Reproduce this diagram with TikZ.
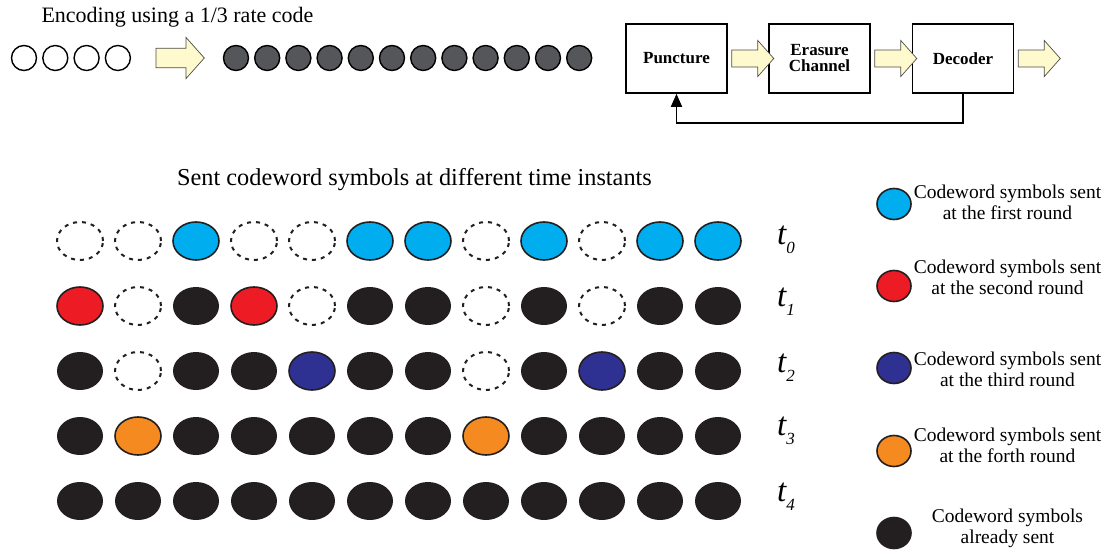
\documentclass[tikz,border=0pt]{standalone}
\usepackage{fontspec}
\setmainfont{Liberation Serif}
\usetikzlibrary{shapes.geometric,arrows.meta,calc}

\definecolor{symblue}{HTML}{00AEEF}
\definecolor{symred}{HTML}{ED1C24}
\definecolor{symnavy}{HTML}{2E3192}
\definecolor{symorange}{HTML}{F58A20}
\definecolor{symblack}{HTML}{231F20}
\definecolor{codegray}{HTML}{555659}
\definecolor{arrowfill}{HTML}{FFFACD}

\tikzset{
  sym/.style={ellipse, minimum width=46pt, minimum height=38pt, inner sep=0pt},
  erased/.style={sym, draw=symblack, line width=2pt, dash pattern=on 4pt off 5pt},
  sentnow/.style={sym, draw=symblack, line width=1.6pt, fill=#1},
  sentold/.style={sym, fill=symblack},
  legsym/.style={ellipse, minimum width=34pt, minimum height=31pt, inner sep=0pt,
                 draw=symblack, line width=1.6pt, fill=#1},
  legtext/.style={align=center, font=\rmfamily\fontsize{19.5}{21}\selectfont},
  infobit/.style={circle, minimum size=25pt, inner sep=0pt, draw=black, line width=1.4pt},
  codebit/.style={infobit, fill=codegray},
  block/.style={draw=black, line width=1.6pt, minimum width=101pt, minimum height=69pt,
                align=center, font=\rmfamily\fontsize{17}{16}\bfseries},
  barrow/.style={draw=black!70, line width=0.7pt, fill=arrowfill},
  blockarrow/.pic={\path[barrow] (0,-8.5) -- (26,-8.5) -- (26,-18) -- (42,0)
                        -- (26,18) -- (26,8.5) -- (0,8.5) -- cycle;},
  tlabel/.style={font=\rmfamily\fontsize{33}{33}\itshape\selectfont}
}

\newcommand{\tsub}[1]{t\raisebox{-0.28em}{\fontsize{17}{17}\selectfont #1}}

\begin{document}
\begin{tikzpicture}[x=1pt, y=-1pt]
\useasboundingbox (0,0) rectangle (1112,554);

% ---- encoding stage ----
\node[font=\rmfamily\fontsize{22}{22}\selectfont, anchor=west] (enc) at (38,17) {Encoding using a 1/3 rate code};
\foreach \i in {0,...,3}
  \node[infobit] (in\i) at (24+31.3*\i,58) {};
\pic[scale=1.15] at (156,58) {blockarrow};
\foreach \i in {0,...,11}
  \node[codebit] (cw\i) at (236+31.2*\i,58) {};

% ---- transmission loop ----
\node[block] (punct) at (676.5,58.5) {Puncture};
\node[block] (erase) at (819.5,58.5) {Erasure\\Channel};
\node[block] (dec)   at (963,58.5)   {Decoder};
\pic at ($(punct.east)+(4,0)$) {blockarrow};
\pic at ($(erase.east)+(4,0)$) {blockarrow};
\pic at ($(dec.east)+(4,0)$) {blockarrow};
\coordinate (fbr) at ($(dec.south)+(0,29)$);
\coordinate (fbl) at ($(punct.south)+(0,29)$);
\draw[line width=1.6pt, -{Triangle[length=13pt,width=11pt]}]
  (dec.south) -- (fbr) -- (fbl) -- (punct.south);

% ---- symbols over time ----
\node[font=\rmfamily\fontsize{24.3}{24}\selectfont] (title) at (414.5,180) {Sent codeword symbols at different time instants};

% row t0
\foreach \k/\s in {0/e,1/e,2/b,3/e,4/e,5/b,6/b,7/e,8/b,9/e,10/b,11/b}{
  \if\s e\relax \node[erased] (r0c\k) at (80+58*\k,241) {};
  \else \node[sentnow=symblue] (r0c\k) at (80+58*\k,241) {}; \fi}
% row t1
\foreach \k/\s in {0/r,1/e,2/k,3/r,4/e,5/k,6/k,7/e,8/k,9/e,10/k,11/k}{
  \if\s e\relax \node[erased] (r1c\k) at (80+58*\k,306) {};
  \else\if\s r\relax \node[sentnow=symred] (r1c\k) at (80+58*\k,306) {};
  \else \node[sentold] (r1c\k) at (80+58*\k,306) {}; \fi\fi}
% row t2
\foreach \k/\s in {0/k,1/e,2/k,3/k,4/n,5/k,6/k,7/e,8/k,9/n,10/k,11/k}{
  \if\s e\relax \node[erased] (r2c\k) at (80+58*\k,371) {};
  \else\if\s n\relax \node[sentnow=symnavy] (r2c\k) at (80+58*\k,371) {};
  \else \node[sentold] (r2c\k) at (80+58*\k,371) {}; \fi\fi}
% row t3
\foreach \k/\s in {0/k,1/o,2/k,3/k,4/k,5/k,6/k,7/o,8/k,9/k,10/k,11/k}{
  \if\s o\relax \node[sentnow=symorange] (r3c\k) at (80+58*\k,436) {};
  \else \node[sentold] (r3c\k) at (80+58*\k,436) {}; \fi}
% row t4
\foreach \k in {0,...,11}
  \node[sentold] (r4c\k) at (80+58*\k,501) {};

% time labels
\node[tlabel] (t0) at (786,240) {\tsub{0}};
\node[tlabel] (t1) at (786,302) {\tsub{1}};
\node[tlabel] (t2) at (786,368) {\tsub{2}};
\node[tlabel] (t3) at (786,431) {\tsub{3}};
\node[tlabel] (t4) at (786,497) {\tsub{4}};

% ---- legend ----
\node[legsym=symblue]   (lb) at (894,204) {};
\node[legsym=symred]    (lr) at (894,286) {};
\node[legsym=symnavy]   (ln) at (894,368) {};
\node[legsym=symorange] (lo) at (894,451) {};
\node[legsym=symblack]  (lk) at (894,533) {};
\node[legtext] (lbt) at (1007.5,202) {Codeword symbols sent\\at the first round};
\node[legtext] (lrt) at (1007.5,277) {Codeword symbols sent\\at the second round};
\node[legtext] (lnt) at (1007.5,369) {Codeword symbols sent\\at the third round};
\node[legtext] (lot) at (1007.5,445) {Codeword symbols sent\\at the forth round};
\node[legtext] (lkt) at (1007.5,528) {Codeword symbols\\already sent};
\end{tikzpicture}
\end{document}
